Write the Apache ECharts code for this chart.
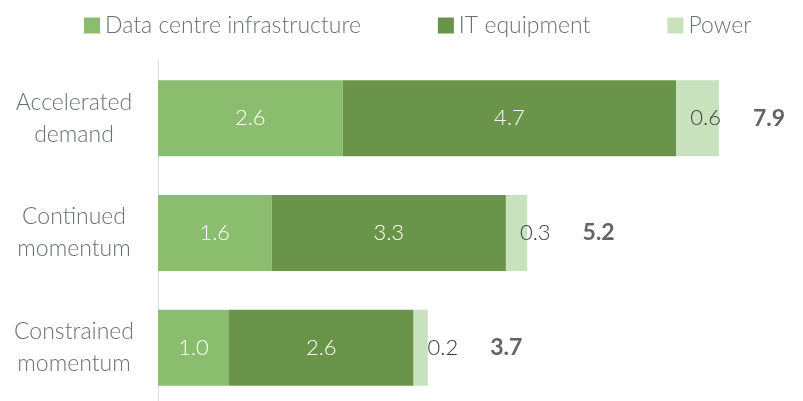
<!DOCTYPE html>
<html>
<head>
<meta charset="utf-8">
<script src="https://cdn.jsdelivr.net/npm/echarts@6/dist/echarts.min.js"></script>
<style>
  html, body { margin: 0; padding: 0; background: #ffffff; }
  #chart { width: 803px; height: 401px; }
</style>
</head>
<body>
<div id="chart"></div>
<script>
// Scenarios (top to bottom) and the three stacked cost components
const categories = ['Accelerated\ndemand', 'Continued\nmomentum', 'Constrained\nmomentum'];
const dataCentreInfra = [2.6, 1.6, 1.0];
const itEquipment = [4.7, 3.3, 2.6];
const power = [0.6, 0.3, 0.2];
const totals = [7.9, 5.2, 3.7];

const FONT = 'Lato';
const GREY = '#6b7071';

const chart = echarts.init(document.getElementById('chart'), null, { renderer: 'canvas' });

const insideLabel = {
  show: true,
  position: 'inside',
  color: '#ffffff',
  fontFamily: FONT,
  fontWeight: 300,
  fontSize: 22,
  formatter: p => p.value.toFixed(1)
};

chart.setOption({
  animation: false,
  textStyle: { fontFamily: FONT },
  legend: {
    left: 79,
    top: 9,
    icon: 'rect',
    itemWidth: 16,
    itemHeight: 16,
    itemGap: 77,
    textStyle: { color: GREY, fontSize: 23, fontFamily: FONT, fontWeight: 300 }
  },
  // the axis runs past the bottom edge, so the grid is allowed to overflow the canvas
  grid: { left: 158, top: 61, width: 639, height: 344, outerBoundsMode: 'none' },
  xAxis: {
    type: 'value',
    min: 0,
    max: 9,
    show: false
  },
  yAxis: {
    type: 'category',
    inverse: true,
    data: categories,
    axisLine: { show: true, lineStyle: { color: '#d9d9d9', width: 1 } },
    axisTick: { show: false },
    axisLabel: {
      color: GREY,
      fontFamily: FONT,
      fontWeight: 300,
      fontSize: 23,
      lineHeight: 32,
      align: 'center',
      margin: 84
    }
  },
  series: [
    {
      name: 'Data centre infrastructure',
      type: 'bar',
      stack: 'total',
      barWidth: 76,
      itemStyle: { color: '#8abe6e' },
      label: insideLabel,
      data: dataCentreInfra
    },
    {
      name: 'IT equipment',
      type: 'bar',
      stack: 'total',
      barWidth: 76,
      itemStyle: { color: '#6a944a' },
      label: insideLabel,
      data: itEquipment
    },
    {
      name: 'Power',
      type: 'bar',
      stack: 'total',
      barWidth: 76,
      itemStyle: { color: '#c8e2be' },
      label: {
        show: true,
        position: 'insideLeft',
        distance: 14,
        formatter: p => '{v|' + p.value.toFixed(1) + '}{t|' + totals[p.dataIndex].toFixed(1) + '}',
        rich: {
          v: { color: '#3a3d3e', fontFamily: FONT, fontWeight: 300, fontSize: 22 },
          t: { color: '#5f6466', fontFamily: FONT, fontWeight: 'bold', fontSize: 23, padding: [0, 0, 0, 32] }
        }
      },
      data: power
    }
  ]
});
</script>
</body>
</html>
